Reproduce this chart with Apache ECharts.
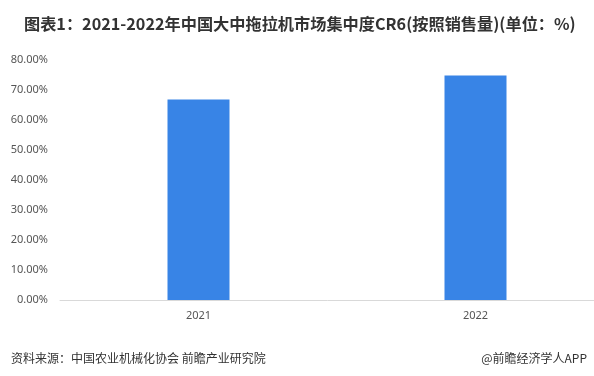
<!DOCTYPE html>
<html>
<head>
<meta charset="utf-8">
<script src="https://cdn.jsdelivr.net/npm/echarts@6/dist/echarts.min.js"></script>
<style>
  html, body { margin: 0; padding: 0; background: #fff; }
  #main { width: 594px; height: 376px; }
</style>
</head>
<body>
<div id="main"></div>
<script>
var years = ['2021', '2022'];
var cr6 = [66.8, 74.8];
var yTicks = [0, 10, 20, 30, 40, 50, 60, 70, 80];

var myChart = echarts.init(document.getElementById('main'));

var option = {
    backgroundColor: '#fff',
    animation: false,
    title: [
        {
            text: '图表1：2021-2022年中国大中拖拉机市场集中度CR6(按照销售量)(单位：%)',
            left: 19,
            top: 11,
            textStyle: {
                fontFamily: 'Noto Sans CJK SC',
                fontSize: 16.2,
                fontWeight: 'bold',
                color: '#333'
            }
        },
        {
            text: '资料来源：中国农业机械化协会 前瞻产业研究院',
            left: 6,
            top: 347,
            textStyle: {
                fontFamily: 'Noto Sans CJK SC',
                fontSize: 12,
                fontWeight: 'normal',
                color: '#333'
            }
        },
        {
            text: '@前瞻经济学人APP',
            right: 2,
            top: 347,
            textStyle: {
                fontFamily: 'Noto Sans CJK SC',
                fontSize: 12,
                fontWeight: 'normal',
                color: '#333'
            }
        }
    ],
    grid: {
        left: 60,
        width: 554,
        top: 60,
        bottom: 76,
        containLabel: false,
        outerBoundsMode: 'none'
    },
    xAxis: {
        type: 'category',
        data: years,
        axisTick: { show: false },
        axisLine: { lineStyle: { color: '#d9d9d9' } },
        axisLabel: {
            color: '#555',
            fontSize: 11,
            margin: 10,
            fontFamily: 'Noto Sans'
        }
    },
    yAxis: {
        type: 'value',
        min: yTicks[0],
        max: yTicks[yTicks.length - 1],
        interval: 10,
        splitLine: { show: false },
        axisLine: { show: false },
        axisTick: { show: false },
        axisLabel: {
            color: '#555',
            fontSize: 11,
            margin: 12,
            fontFamily: 'Noto Sans',
            formatter: function (v) { return v.toFixed(2) + '%'; }
        }
    },
    series: [
        {
            type: 'bar',
            data: cr6,
            barWidth: 62,
            itemStyle: { color: '#3884e6' }
        }
    ]
};

myChart.setOption(option);
</script>
</body>
</html>
